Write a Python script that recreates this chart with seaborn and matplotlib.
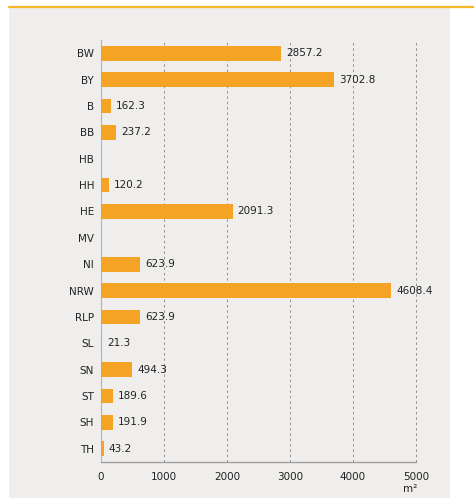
import matplotlib
matplotlib.use("Agg")
import matplotlib.pyplot as plt
import seaborn as sns
import pandas as pd
from matplotlib.patches import Rectangle
from matplotlib.lines import Line2D

# Area per federal state (m²)
states = ["BW", "BY", "B", "BB", "HB", "HH", "HE", "MV", "NI", "NRW",
          "RLP", "SL", "SN", "ST", "SH", "TH"]
area = [2857.2, 3702.8, 162.3, 237.2, 0.0, 120.2, 2091.3, 0.0, 623.9, 4608.4,
        623.9, 21.3, 494.3, 189.6, 191.9, 43.2]
x_ticks = [0, 1000, 2000, 3000, 4000, 5000]
unit_label = "m²"

sns.set_theme(style="white")
plt.rcParams["font.family"] = ["DejaVu Sans"]

df = pd.DataFrame({"state": states, "area": area})

W, H = 474, 498
fig = plt.figure(figsize=(W / 100, H / 100), dpi=100)
fig.patch.set_facecolor("white")

# light panel with a yellow rule on top
fig.patches.append(Rectangle((9 / W, 0.0), (450 - 9) / W, (498 - 8) / H,
                             transform=fig.transFigure, facecolor="#efeeec",
                             edgecolor="none", zorder=-10))
fig.lines.append(Line2D([9 / W, 1.0], [1 - 7 / H, 1 - 7 / H],
                        transform=fig.transFigure, color="#f3b728",
                        linewidth=1.6, zorder=-9))

ax = fig.add_axes([101 / W, (498 - 462) / H, (416 - 101) / W, (462 - 40) / H])
ax.set_zorder(5)
ax.set_facecolor("none")

sns.barplot(data=df, x="area", y="state", orient="h", color="#f4a324",
            width=0.56, saturation=1, linewidth=0, ax=ax, zorder=3)

ax.set_xlim(0, 5000)
ax.set_ylim(len(states) - 0.5, -0.5)
ax.set_xticks(x_ticks)
ax.set_xticklabels([str(t) for t in x_ticks])
ax.set_xlabel("")
ax.set_ylabel("")

for t in x_ticks[1:]:
    ax.axvline(t, color="#8f8f8f", linewidth=0.7, linestyle=(0, (2.5, 3)),
               zorder=1, clip_on=False)

for i, v in enumerate(area):
    if v > 0:
        ax.annotate(f"{v:.1f}", xy=(v, i), xytext=(3.5, 0),
                    textcoords="offset points", va="center", ha="left",
                    fontsize=7.5, color="#222222")

for s in ["top", "right"]:
    ax.spines[s].set_visible(False)
ax.spines["left"].set_color("#9fb8cf")
ax.spines["left"].set_linewidth(0.8)
ax.spines["bottom"].set_color("#a0a0a0")
ax.spines["bottom"].set_linewidth(1.0)

ax.tick_params(axis="y", length=0, pad=5, labelsize=7.5, labelcolor="#222222")
ax.tick_params(axis="x", length=2, width=0.6, color="#a0a0a0", pad=5,
               labelsize=7.5, labelcolor="#222222")

fig.text(410 / W, 1 - 489 / H, unit_label, ha="center", va="center",
         fontsize=7.5, color="#222222")

fig.savefig("out.png", dpi=100)
